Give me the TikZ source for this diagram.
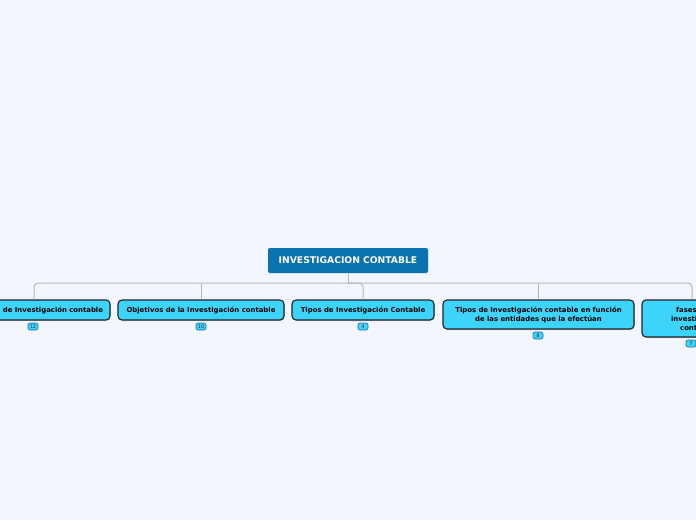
\documentclass[tikz,border=0pt]{standalone}
\usepackage{fontspec}
\newfontfamily\mmfont{DejaVu Sans}
\usetikzlibrary{shadows}
\definecolor{bgc}{HTML}{F3F6FE}
\definecolor{rootc}{HTML}{0B72B0}
\definecolor{childc}{HTML}{3DD4FC}
\definecolor{edgec}{HTML}{222222}
\definecolor{linec}{HTML}{B4B7BE}
\definecolor{badgeb}{HTML}{1F6E9E}
\tikzset{
  rootbox/.style={fill=rootc, text=white, rounded corners=2pt, minimum width=160pt, minimum height=25pt, inner sep=0pt,
    font=\mmfont\bfseries\fontsize{9.2}{10}\selectfont},
  childbox/.style={fill=childc, draw=edgec, line width=1.1pt, rounded corners=4pt, inner sep=0pt,
    drop shadow={shadow xshift=0.8pt, shadow yshift=-1pt, opacity=0.35},
    font=\mmfont\bfseries\fontsize{6.9}{9}\selectfont, text=black},
  badge/.style={fill=childc, draw=badgeb, line width=0.6pt, rounded corners=2pt, minimum width=10pt, minimum height=7pt, inner sep=0pt,
    font=\mmfont\fontsize{5}{5}\selectfont, text=black!80},
  conn/.style={draw=linec, line width=1pt, rounded corners=4pt}
}
\begin{document}
\begin{tikzpicture}[x=1pt,y=-1pt]
\useasboundingbox (0,0) rectangle (696,520);
\clip (0,0) rectangle (696,520);
\fill[bgc] (0,0) rectangle (696,520);

\node[rootbox] (root) at (348,260.5) {INVESTIGACION CONTABLE};

\node[childbox, minimum width=152pt, minimum height=20pt, text width=138pt, align=right] (c1) at (34,310) {de Investigación contable};
\node[childbox, minimum width=166pt, minimum height=20pt] (c2) at (201,310) {Objetivos de la Investigación contable};
\node[childbox, minimum width=142pt, minimum height=20pt] (c3) at (363,310) {Tipos de Investigación Contable};
\node[childbox, minimum width=191pt, minimum height=29pt, text width=180pt, align=center] (c4) at (538.5,314.5) {Tipos de Investigación contable en función\\de las entidades que la efectúan};
\node[childbox, minimum width=110pt, minimum height=37pt, text width=100pt, align=center] (c5) at (697,318.5) {fases de la\\investigación\\contable};

\coordinate (h1) at (34,283);
\coordinate (h5) at (692,283);
\coordinate (hs) at (348,283);
\draw[conn] (root.south) -- (hs);
\draw[conn] (c1.north -| h1) -- (h1) -- (hs) -- (hs -| c3.north) -- (c3.north);
\draw[conn] (hs) -- (h5) -- (h5 |- c5.north);
\draw[conn] (c2.north) -- (c2.north |- hs);
\draw[conn] (c4.north) -- (c4.north |- hs);

\node[badge] (b1) at (33,326.5) {12};
\node[badge] (b2) at (201,326.5) {10};
\node[badge] (b3) at (363,326.5) {4};
\node[badge] (b4) at (538,335.5) {8};
\node[badge] (b5) at (691,343.5) {7};
\end{tikzpicture}
\end{document}
